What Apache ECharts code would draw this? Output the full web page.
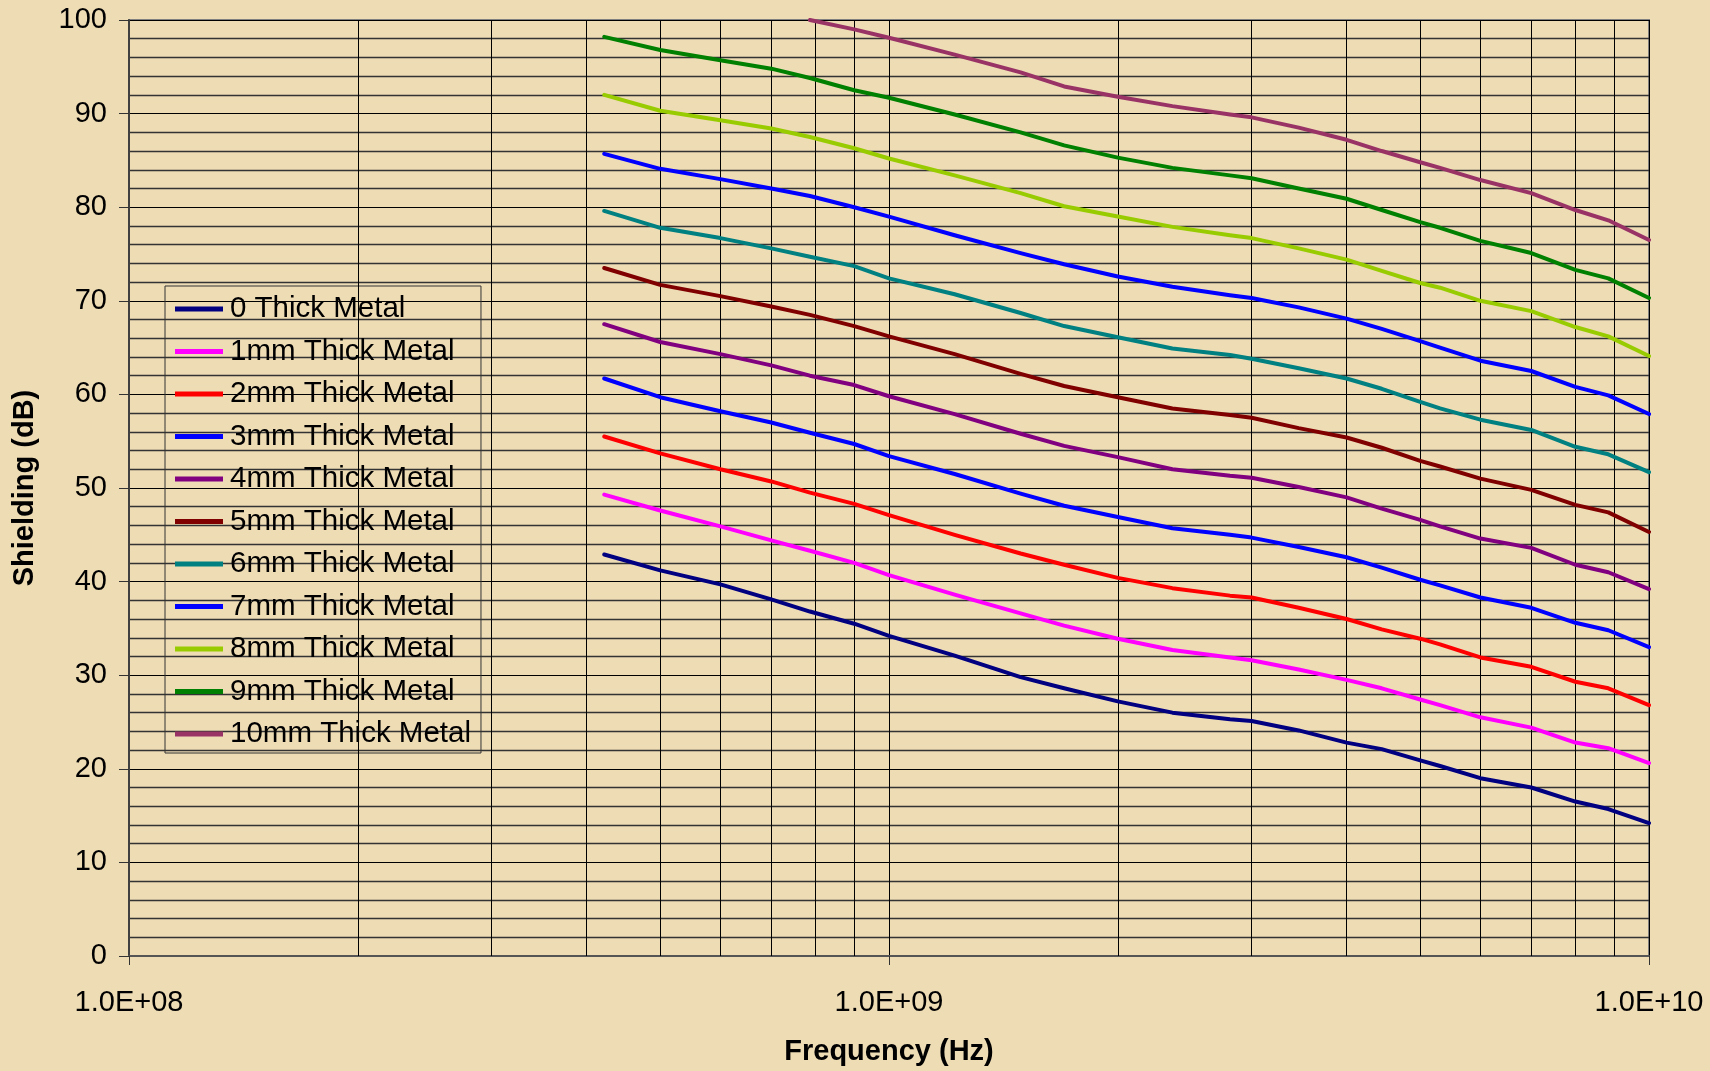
<!DOCTYPE html>
<html>
<head>
<meta charset="utf-8">
<script src="https://cdn.jsdelivr.net/npm/echarts@6/dist/echarts.min.js"></script>
<style>
  html, body { margin: 0; padding: 0; background: #EEDCB5; }
  #chart { width: 1710px; height: 1071px; }
</style>
</head>
<body>
<div id="chart"></div>
<script>
// Frequencies (Hz)
const freqHz = [4.22e8, 5e8, 6e8, 7e8, 7.87e8, 9e8, 1e9, 1.22e9, 1.49e9, 1.7e9, 2e9, 2.36e9, 2.81e9, 3e9, 3.46e9, 4e9, 4.45e9, 5e9, 5.31e9, 6e9, 7e9, 8e9, 8.84e9, 1e10];

// Shielding (dB) per thickness
const metal0mm  = [42.9, 41.2, 39.7, 38.1, 36.8, 35.5, 34.2, 32.1, 29.8, 28.6, 27.2, 26.0, 25.3, 25.1, 24.1, 22.8, 22.1, 20.9, 20.3, 19.0, 18.0, 16.5, 15.7, 14.2];
const metal1mm  = [49.3, 47.6, 45.9, 44.4, 43.3, 42.0, 40.7, 38.6, 36.6, 35.3, 33.9, 32.7, 31.9, 31.6, 30.6, 29.5, 28.6, 27.4, 26.8, 25.5, 24.4, 22.8, 22.2, 20.6];
const metal2mm  = [55.5, 53.7, 52.0, 50.7, 49.5, 48.3, 47.1, 45.0, 43.0, 41.8, 40.4, 39.3, 38.5, 38.3, 37.2, 36.0, 34.9, 33.9, 33.3, 31.9, 30.9, 29.3, 28.6, 26.8];
const metal3mm  = [61.7, 59.7, 58.2, 57.0, 55.9, 54.7, 53.4, 51.5, 49.4, 48.1, 46.9, 45.7, 45.0, 44.7, 43.7, 42.6, 41.5, 40.2, 39.6, 38.3, 37.2, 35.6, 34.8, 33.0];
const metal4mm  = [67.5, 65.6, 64.3, 63.1, 62.0, 61.0, 59.8, 57.9, 55.8, 54.5, 53.3, 52.0, 51.3, 51.1, 50.1, 49.0, 47.8, 46.6, 45.9, 44.6, 43.6, 41.8, 41.0, 39.2];
const metal5mm  = [73.5, 71.7, 70.5, 69.4, 68.5, 67.3, 66.2, 64.3, 62.2, 60.9, 59.7, 58.5, 57.8, 57.5, 56.4, 55.4, 54.3, 52.9, 52.3, 51.0, 49.8, 48.2, 47.4, 45.3];
const metal6mm  = [79.6, 77.8, 76.7, 75.6, 74.7, 73.7, 72.4, 70.7, 68.7, 67.3, 66.1, 64.9, 64.2, 63.8, 62.8, 61.7, 60.6, 59.2, 58.5, 57.3, 56.2, 54.4, 53.6, 51.7];
const metal7mm  = [85.7, 84.1, 83.0, 82.0, 81.2, 80.0, 79.0, 77.0, 75.1, 73.9, 72.6, 71.5, 70.6, 70.3, 69.3, 68.1, 67.0, 65.7, 65.0, 63.6, 62.5, 60.8, 59.9, 57.9];
const metal8mm  = [92.0, 90.3, 89.3, 88.4, 87.5, 86.3, 85.2, 83.4, 81.5, 80.1, 79.0, 77.9, 77.0, 76.7, 75.6, 74.4, 73.2, 71.9, 71.4, 70.0, 68.9, 67.2, 66.2, 64.1];
const metal9mm  = [98.2, 96.8, 95.7, 94.8, 93.8, 92.5, 91.7, 89.9, 88.0, 86.6, 85.3, 84.2, 83.4, 83.1, 82.0, 80.9, 79.7, 78.4, 77.8, 76.4, 75.1, 73.3, 72.4, 70.3];
const metal10mm = [null, null, null, null, 100.0, 99.0, 98.1, 96.3, 94.4, 92.9, 91.8, 90.8, 89.9, 89.6, 88.5, 87.2, 86.0, 84.8, 84.2, 82.9, 81.5, 79.7, 78.6, 76.5];

const seriesNames = ['0 Thick Metal', '1mm Thick Metal', '2mm Thick Metal', '3mm Thick Metal', '4mm Thick Metal',
  '5mm Thick Metal', '6mm Thick Metal', '7mm Thick Metal', '8mm Thick Metal', '9mm Thick Metal', '10mm Thick Metal'];
const seriesValues = [metal0mm, metal1mm, metal2mm, metal3mm, metal4mm, metal5mm, metal6mm, metal7mm, metal8mm, metal9mm, metal10mm];
const seriesColors = ['#000080', '#FF00FF', '#FF0000', '#0000FF', '#800080', '#800000', '#008080', '#0000FF', '#99CC00', '#008000', '#993366'];

// Axis settings
const xMin = 1e8, xMax = 1e10;
const yMin = 0, yMax = 100, yStep = 10;
const logMinorMultipliers = [2, 3, 4, 5, 6, 7, 8, 9];
const decades = [1e8, 1e9];

const FONT = '"Liberation Sans", Arial, sans-serif';

const minorGridFreqs = [];
decades.forEach(d => logMinorMultipliers.forEach(m => minorGridFreqs.push(d * m)));

function sciLabel(v) {
  const e = Math.round(Math.log10(v));
  const m = v / Math.pow(10, e);
  return m.toFixed(1) + 'E+' + (e < 10 ? '0' + e : '' + e);
}

const series = seriesNames.map((name, i) => ({
  name: name,
  type: 'line',
  data: freqHz.map((f, j) => [f, seriesValues[i][j]]),
  showSymbol: false,
  symbol: 'none',
  connectNulls: false,
  clip: true,
  z: 5,
  lineStyle: { color: seriesColors[i], width: 4, join: 'round', cap: 'round' },
  itemStyle: { color: seriesColors[i] },
  emphasis: { disabled: true }
}));

series.push({
  name: 'grid-minor-x',
  type: 'line',
  data: [],
  z: 1,
  silent: true,
  markLine: {
    silent: true,
    symbol: ['none', 'none'],
    label: { show: false },
    animation: false,
    lineStyle: { color: '#000', width: 1, type: 'solid' },
    emphasis: { disabled: true },
    data: minorGridFreqs.map(f => ({ xAxis: f }))
  }
});

const chart = echarts.init(document.getElementById('chart'), null, { renderer: 'canvas' });
chart.setOption({
  animation: false,
  backgroundColor: '#EEDCB5',
  grid: {
    left: 129, top: 20, right: 61, bottom: 111,
    show: true, borderColor: '#808080', borderWidth: 2, backgroundColor: 'transparent'
  },
  legend: {
    data: seriesNames,
    orient: 'vertical',
    left: 165, top: 286,
    padding: [8, 10, 4, 10],
    borderColor: '#333', borderWidth: 1,
    backgroundColor: 'transparent',
    icon: 'rect',
    itemWidth: 48, itemHeight: 5,
    itemGap: 12.5,
    selectedMode: false,
    textStyle: { fontFamily: FONT, fontSize: 29.5, lineHeight: 30, color: '#000', padding: [0, 0, 0, 2] }
  },
  xAxis: {
    type: 'log',
    logBase: 10,
    min: xMin, max: xMax,
    name: 'Frequency (Hz)',
    nameLocation: 'middle',
    nameGap: 81,
    nameTextStyle: { fontFamily: FONT, fontSize: 29, fontWeight: 'bold', color: '#000' },
    axisLine: { show: true, onZero: false, lineStyle: { color: '#555', width: 2 } },
    axisTick: { show: true, length: 9, lineStyle: { color: '#333', width: 1 } },
    axisLabel: { formatter: sciLabel, fontFamily: FONT, fontSize: 29, color: '#000', margin: 32 },
    splitLine: { show: true, lineStyle: { color: '#000', width: 1 } },
    minorTick: { show: false },
    minorSplitLine: { show: false }
  },
  yAxis: {
    type: 'value',
    min: yMin, max: yMax, interval: yStep,
    name: 'Shielding (dB)',
    nameLocation: 'middle',
    nameGap: 90,
    nameRotate: 90,
    nameTextStyle: { fontFamily: FONT, fontSize: 29, fontWeight: 'bold', color: '#000' },
    axisLine: { show: true, lineStyle: { color: '#404040', width: 2 } },
    axisTick: { show: true, length: 10, lineStyle: { color: '#333', width: 1 } },
    axisLabel: { fontFamily: FONT, fontSize: 29, color: '#000', margin: 22 },
    splitLine: { show: true, lineStyle: { color: '#000', width: 1 } },
    minorTick: { show: false, splitNumber: 5 },
    minorSplitLine: { show: true, lineStyle: { color: '#333', width: 1.3 } }
  },
  series: series
});
</script>
</body>
</html>
